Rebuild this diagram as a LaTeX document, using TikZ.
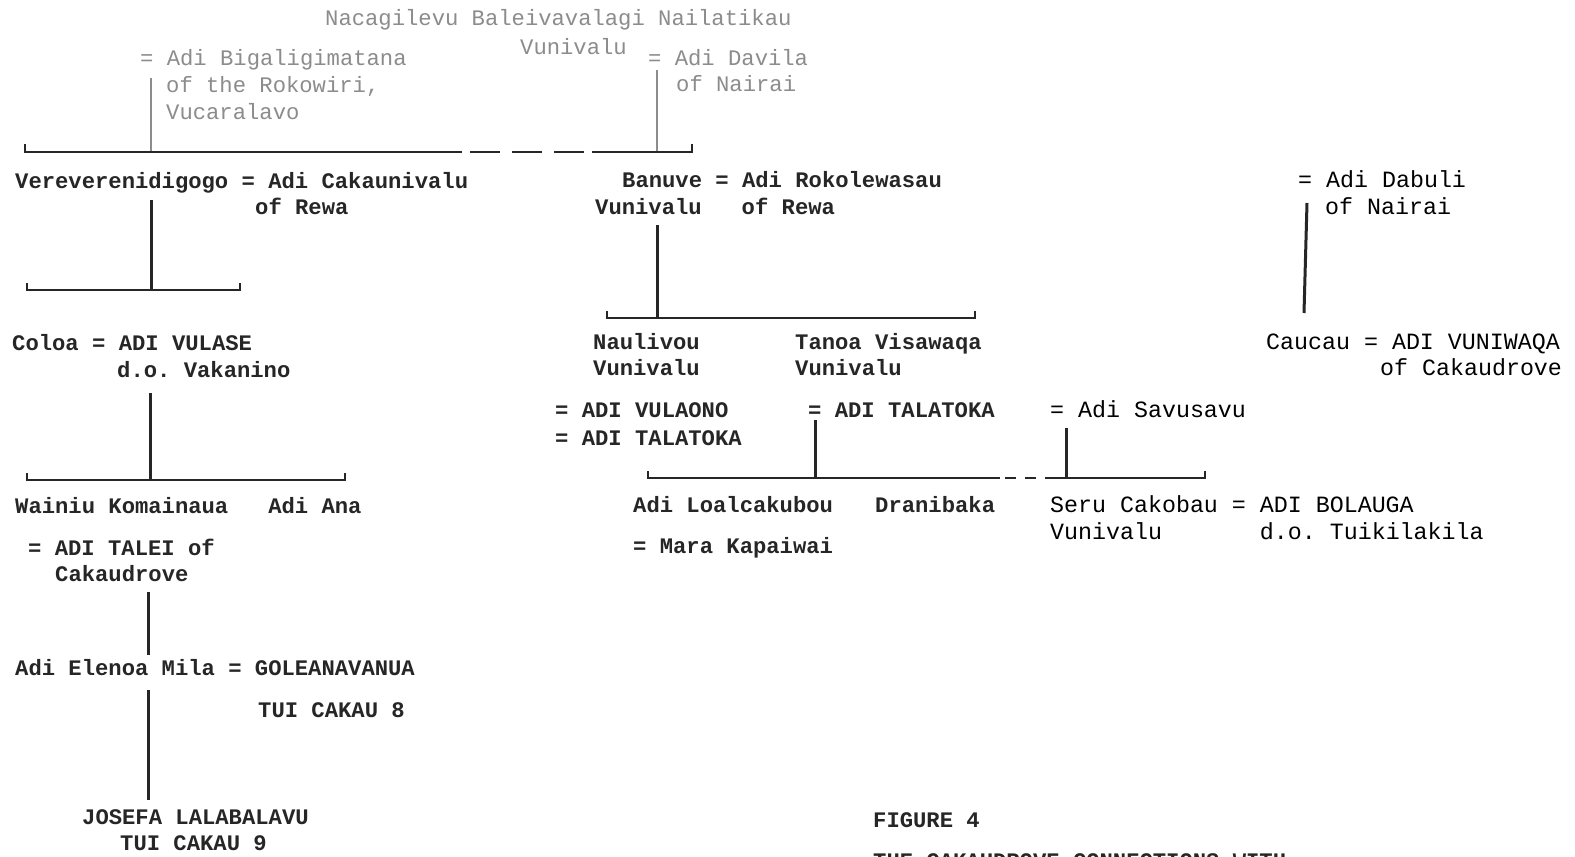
\documentclass[tikz,border=0pt]{standalone}
\usepackage{fontspec}
\newfontfamily\tw{Liberation Mono}
\definecolor{ink}{HTML}{262626}
\definecolor{faint}{HTML}{8C8C8C}
\frenchspacing
\tikzset{
  x=1pt, y=-1pt,
  rough/.style={anchor=base west, inner sep=0pt, text=ink,
    font=\tw\bfseries\fontsize{22.2}{26}\selectfont},
  pale/.style={rough, text=faint, font=\tw\fontsize{22.2}{26}\selectfont},
  clean/.style={anchor=base west, inner sep=0pt, text=black,
    font=\tw\fontsize{23.3}{27}\selectfont},
  bar/.style={draw=ink, line width=2pt},
  stem/.style={draw=ink, line width=3pt},
  thinstem/.style={draw=faint, line width=1.3pt},
  gapline/.style={draw=ink, line width=2pt, dash pattern=on 30pt off 12pt},
}
\begin{document}
\begin{tikzpicture}
\clip (0,0) rectangle (1575,857);
\fill[white] (0,0) rectangle (1575,857);

% ---- first generation ----
\node[pale] (top1) at (325,25) {Nacagilevu Baleivavalagi Nailatikau};
\node[pale] (top2) at (520,54) {Vunivalu};
\node[pale] (wifeA) at (140,65) {= Adi Bigaligimatana};
\node[pale] (wifeA2) at (166,92) {of the Rokowiri,};
\node[pale] (wifeA3) at (166,119) {Vucaralavo};
\node[pale] (wifeB) at (648,65) {= Adi Davila};
\node[pale] (wifeB2) at (676,91) {of Nairai};

\coordinate (sA) at (151,78);
\coordinate (sB) at (657,70);
\coordinate (g1L) at (25,152);
\coordinate (g1A) at (151,152);
\coordinate (g1s) at (462,152);
\coordinate (g1d) at (470,152);
\coordinate (g1e) at (592,152);
\coordinate (g1B) at (657,152);
\coordinate (g1R) at (692,152);
\draw[thinstem] (sA) -- (g1A);
\draw[thinstem] (sB) -- (g1B);
\draw[bar] ([yshift=8]g1L) -- (g1L) -- (g1s);
\draw[gapline] (g1d) -- (g1e);
\draw[bar] (g1e) -- (g1R) -- ([yshift=8]g1R);

% ---- Vereverenidigogo line ----
\node[rough] (vere) at (15,188) {Vereverenidigogo = Adi Cakaunivalu};
\node[rough] (vere2) at (255,214) {of Rewa};
\coordinate (vS) at (151,200);
\coordinate (g2L) at (27,290);
\coordinate (g2M) at (151,290);
\coordinate (g2R) at (240,290);
\draw[stem] (vS) -- (g2M);
\draw[bar] ([yshift=7]g2L) -- (g2L) -- (g2R) -- ([yshift=7]g2R);

\node[rough] (colo) at (12,350) {Coloa = ADI VULASE};
\node[rough] (colo2) at (117,377) {d.o. Vakanino};
\coordinate (cS) at (150,393);
\coordinate (g3L) at (27,480);
\coordinate (g3M) at (150,480);
\coordinate (g3R) at (345,480);
\draw[stem] (cS) -- (g3M);
\draw[bar] ([yshift=7]g3L) -- (g3L) -- (g3R) -- ([yshift=7]g3R);

\node[rough] (wain) at (15,513) {Wainiu Komainaua~~~Adi Ana};
\node[rough] (wain2) at (28,555) {= ADI TALEI of};
\node[rough] (wain3) at (55,581) {Cakaudrove};
\coordinate (wS) at (148,592);
\coordinate (wE) at (148,655);
\draw[stem] (wS) -- (wE);

\node[rough] (elen) at (15,675) {Adi Elenoa Mila = GOLEANAVANUA};
\node[rough] (elen2) at (258,717) {TUI CAKAU 8};
\coordinate (eS) at (148,690);
\coordinate (eE) at (148,800);
\draw[stem] (eS) -- (eE);

\node[rough] (jose) at (82,824) {JOSEFA LALABALAVU};
\node[rough] (jose2) at (120,850) {TUI CAKAU 9};

% ---- Banuve line ----
\node[rough] (banu) at (622,187) {Banuve = Adi Rokolewasau};
\node[rough] (banu2) at (595,214) {Vunivalu~~~of Rewa};
\coordinate (bS) at (657,225);
\coordinate (g4L) at (607,318);
\coordinate (g4M) at (657,318);
\coordinate (g4R) at (975,318);
\draw[stem] (bS) -- (g4M);
\draw[bar] ([yshift=7]g4L) -- (g4L) -- (g4R) -- ([yshift=7]g4R);

\node[rough] (naul) at (593,349) {Naulivou};
\node[rough] (naul2) at (593,375) {Vunivalu};
\node[rough] (naul3) at (555,417) {= ADI VULAONO};
\node[rough] (naul4) at (555,445) {= ADI TALATOKA};
\node[rough] (tano) at (795,349) {Tanoa Visawaqa};
\node[rough] (tano2) at (795,375) {Vunivalu};
\node[rough] (tano3) at (808,417) {= ADI TALATOKA};
\node[clean] (savu) at (1050,417) {= Adi Savusavu};

\coordinate (tS) at (815,420);
\coordinate (sS) at (1066,428);
\coordinate (g5L) at (648,478);
\coordinate (g5T) at (815,478);
\coordinate (g5s) at (1000,478);
\coordinate (g5d) at (1005,478);
\coordinate (g5e) at (1050,478);
\coordinate (g5S) at (1066,478);
\coordinate (g5R) at (1205,478);
\draw[stem] (tS) -- (g5T);
\draw[stem] (sS) -- (g5S);
\draw[bar] ([yshift=7]g5L) -- (g5L) -- (g5s);
\draw[draw=ink, line width=2pt, dash pattern=on 11pt off 9pt] (g5d) -- (g5e);
\draw[bar] (g5e) -- (g5R) -- ([yshift=7]g5R);

\node[rough] (loal) at (633,512) {Adi Loalcakubou};
\node[rough] (dran) at (875,512) {Dranibaka};
\node[rough] (loal2) at (633,553) {= Mara Kapaiwai};
\node[clean] (seru) at (1050,512) {Seru Cakobau = ADI BOLAUGA};
\node[clean] (seru2) at (1050,539) {Vunivalu~~~~~~~d.o. Tuikilakila};

% ---- Caucau line ----
\node[clean] (dabu) at (1298,187) {= Adi Dabuli};
\node[clean] (dabu2) at (1325,214) {of Nairai};
\coordinate (dS) at (1307,203);
\coordinate (dE) at (1304,313);
\draw[stem] (dS) -- (dE);
\node[clean] (cauc) at (1266,349) {Caucau = ADI VUNIWAQA};
\node[clean] (cauc2) at (1380,375) {of Cakaudrove};

% ---- caption ----
\node[rough] (fig) at (873,827) {FIGURE 4};
\node[rough] (cap) at (873,868) {THE CAKAUDROVE CONNECTIONS WITH};
\end{tikzpicture}
\end{document}
